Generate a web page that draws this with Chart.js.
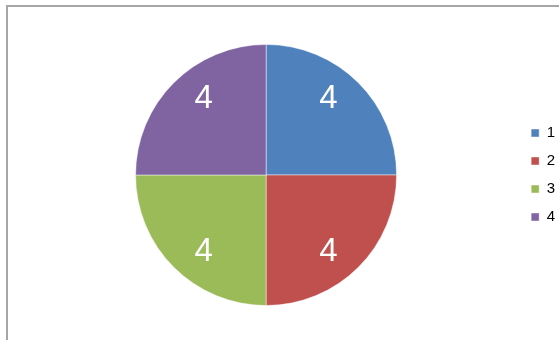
<!DOCTYPE html>
<html>
<head>
<meta charset="utf-8">
<script src="https://cdn.jsdelivr.net/npm/chart.js@4/dist/chart.umd.min.js"></script>
<style>
  html, body { margin: 0; padding: 0; background: #fff; }
  #wrap { position: relative; width: 559px; height: 340px; overflow: hidden; }
  #frame {
    position: absolute; left: 6px; top: 5px; width: 560px; height: 340px;
    border-top: 2px solid #a6a6a6; border-left: 2px solid #a6a6a6;
  }
  canvas { position: absolute; left: 0; top: 0; }
</style>
</head>
<body>
<div id="wrap">
  <div id="frame"></div>
  <canvas id="pie" width="559" height="340"></canvas>
</div>
<script>
const categories = ['1', '2', '3', '4'];
const values = [4, 4, 4, 4];
const sliceColors = ['#4f81bd', '#c0504d', '#9bbb59', '#8064a2'];

// white value labels sitting inside each slice
const sliceLabels = {
  id: 'sliceLabels',
  afterDatasetsDraw(chart) {
    const ctx = chart.ctx;
    const meta = chart.getDatasetMeta(0);
    ctx.save();
    ctx.fillStyle = '#ffffff';
    ctx.font = '33px "Liberation Sans", sans-serif';
    ctx.textAlign = 'center';
    ctx.textBaseline = 'middle';
    meta.data.forEach((arc, i) => {
      const p = arc.getProps(['x', 'y', 'startAngle', 'endAngle', 'outerRadius'], true);
      const mid = (p.startAngle + p.endAngle) / 2;
      const x = p.x + Math.cos(mid) * p.outerRadius * 0.675;
      const y = p.y + Math.sin(mid) * p.outerRadius * 0.83;
      ctx.fillText(String(values[i]), x, y);
    });
    ctx.restore();
  }
};

new Chart(document.getElementById('pie').getContext('2d'), {
  type: 'pie',
  data: {
    labels: categories,
    datasets: [{
      data: values,
      backgroundColor: sliceColors,
      borderColor: 'rgba(255,255,255,0.45)',
      borderWidth: 1,
    }],
  },
  options: {
    responsive: false,
    animation: false,
    layout: { padding: { left: 14, right: -6, top: 44, bottom: 34 } },
    plugins: {
      tooltip: { enabled: false },
      legend: {
        position: 'right',
        labels: {
          boxWidth: 8,
          boxHeight: 8,
          padding: 13,
          color: '#000',
          font: { family: '"Liberation Sans", sans-serif', size: 15 },
        },
      },
    },
  },
  plugins: [sliceLabels],
});
</script>
</body>
</html>
